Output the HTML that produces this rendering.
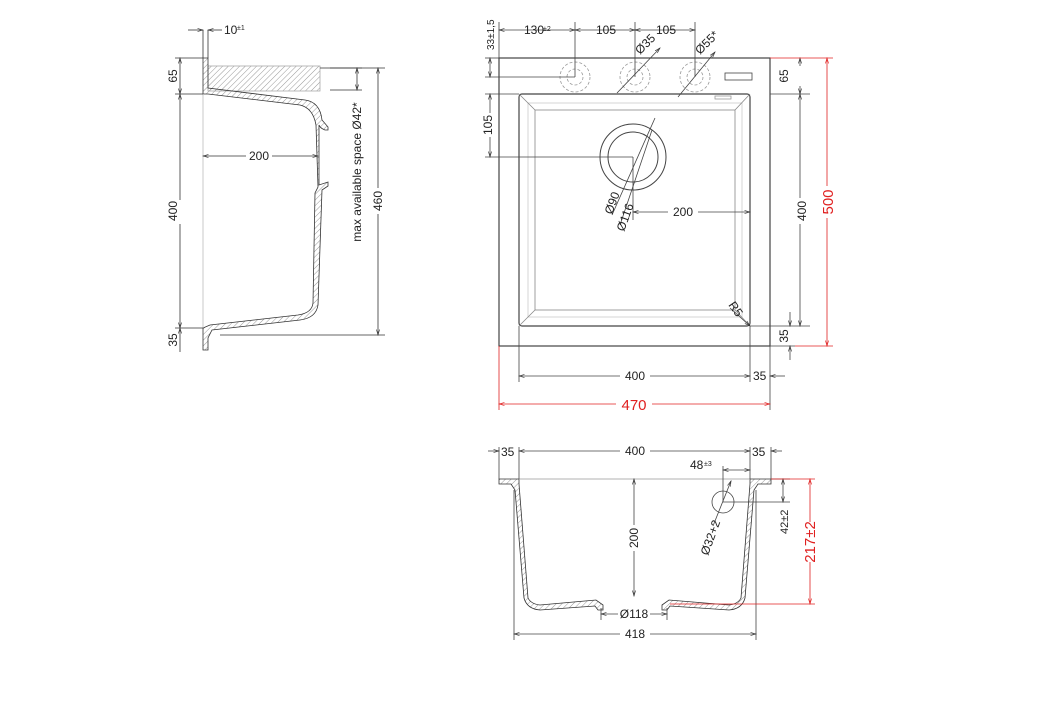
<!DOCTYPE html>
<html><head><meta charset="utf-8"><style>
html,body{margin:0;padding:0;background:#fff;width:1046px;height:701px;overflow:hidden}
svg{display:block}
text{font-family:"Liberation Sans",sans-serif;font-size:12px;fill:#222}
.r{fill:#e02020;font-size:15px}
</style></head><body>
<svg width="1046" height="701" viewBox="0 0 1046 701" xmlns="http://www.w3.org/2000/svg">
<defs>
<pattern id="h" width="4" height="4" patternUnits="userSpaceOnUse" patternTransform="rotate(45)"><line x1="0" y1="0" x2="0" y2="4" stroke="#999" stroke-width="1"/></pattern>
<marker id="a" markerWidth="8" markerHeight="6" refX="7" refY="3" orient="auto-start-reverse"><path d="M0,1 L7,3 L0,5" fill="none" stroke="#333" stroke-width="0.8"/></marker>
<marker id="ar" markerWidth="8" markerHeight="6" refX="7" refY="3" orient="auto-start-reverse"><path d="M0,1 L7,3 L0,5" fill="none" stroke="#e02020" stroke-width="0.8"/></marker>
</defs>
<g stroke="#333" stroke-width="0.8" fill="none">
<rect x="208" y="66" width="112" height="25" fill="url(#h)" stroke="#aaa"/>
<path d="M203,58 L208,58 L208,88 L305,100 Q320,102 322,120 L328,127 L328,130 L325,130 Q320,128 319,125 L319,185 L328,182 L328,186 L322,190 L318,305 Q316,318 300,320 L212,330 L208,338 L208,350 L203,350 L203,328 L210,325 L298,315 Q312,313 313,303 L315,193 L318,187 L316,125 Q313,108 300,105 L208,94 L203,94 Z" fill="url(#h)" stroke="#333"/>
<line x1="203" y1="94" x2="203" y2="328" stroke="#bbb"/>
<line x1="203" y1="30" x2="203" y2="58"/><line x1="208" y1="30" x2="208" y2="58"/>
<line x1="188" y1="30" x2="203" y2="30" marker-end="url(#a)"/><line x1="222" y1="30" x2="208" y2="30" marker-end="url(#a)"/>
<line x1="175" y1="58" x2="203" y2="58"/><line x1="175" y1="94" x2="203" y2="94"/>
<line x1="180" y1="58" x2="180" y2="94" marker-start="url(#a)" marker-end="url(#a)"/>
<line x1="180" y1="94" x2="180" y2="328" marker-start="url(#a)" marker-end="url(#a)"/>
<line x1="175" y1="328" x2="203" y2="328"/>
<line x1="180" y1="328" x2="180" y2="352" marker-start="url(#a)"/>
<line x1="203" y1="156" x2="318" y2="156" marker-start="url(#a)" marker-end="url(#a)"/>
<line x1="330" y1="68" x2="362" y2="68"/><line x1="330" y1="90" x2="362" y2="90"/>
<line x1="357" y1="68" x2="357" y2="90" marker-start="url(#a)" marker-end="url(#a)"/>
<line x1="320" y1="68" x2="385" y2="68"/><line x1="220" y1="335" x2="385" y2="335"/>
<line x1="378" y1="68" x2="378" y2="335" marker-start="url(#a)" marker-end="url(#a)"/>
</g>
<g>
<rect x="223" y="24" width="20" height="12" fill="#fff"/><text x="224" y="34">10</text><text x="237" y="30" style="font-size:7px">±1</text>
<text transform="translate(177,76) rotate(-90)" text-anchor="middle" fill="#222">65</text>
<rect x="172" y="200" width="12" height="24" fill="#fff"/><text transform="translate(177,211) rotate(-90)" text-anchor="middle">400</text>
<text transform="translate(177,340) rotate(-90)" text-anchor="middle">35</text>
<rect x="246" y="148" width="26" height="14" fill="#fff"/><text x="259" y="160" text-anchor="middle">200</text>
<text transform="translate(361,172) rotate(-90)" text-anchor="middle">max available space Ø42*</text>
<rect x="372" y="188" width="12" height="26" fill="#fff"/><text transform="translate(382,201) rotate(-90)" text-anchor="middle">460</text>
</g>

<g stroke="#444" stroke-width="0.8" fill="none">
<rect x="499" y="58" width="271" height="288" stroke-width="1.2"/>
<rect x="519" y="94" width="231" height="232" stroke-width="1.2" rx="3"/>
<rect x="535" y="110" width="200" height="200" stroke="#888"/>
<rect x="528" y="103" width="214" height="214" stroke="#ccc"/>
<line x1="519" y1="94" x2="535" y2="110" stroke="#888"/><line x1="750" y1="94" x2="735" y2="110" stroke="#888"/>
<line x1="519" y1="326" x2="535" y2="310" stroke="#888"/><line x1="750" y1="326" x2="735" y2="310" stroke="#888"/>
<circle cx="633" cy="157" r="33" stroke-width="1"/><circle cx="633" cy="157" r="25" stroke-width="1"/>
<g stroke-dasharray="3,2" stroke="#999"><circle cx="575" cy="77" r="15"/><circle cx="575" cy="77" r="8"/><circle cx="635" cy="77" r="15"/><circle cx="635" cy="77" r="8"/><circle cx="695" cy="77" r="15"/><circle cx="695" cy="77" r="8"/></g>
<rect x="725" y="73" width="27" height="7"/>
<rect x="715" y="96" width="16" height="3" stroke="#999"/>
<line x1="499" y1="22" x2="499" y2="58"/><line x1="575" y1="22" x2="575" y2="77"/><line x1="635" y1="22" x2="635" y2="77"/><line x1="695" y1="22" x2="695" y2="77"/>
<line x1="499" y1="30" x2="575" y2="30" marker-start="url(#a)" marker-end="url(#a)"/>
<line x1="575" y1="30" x2="635" y2="30" marker-start="url(#a)" marker-end="url(#a)"/>
<line x1="635" y1="30" x2="695" y2="30" marker-start="url(#a)" marker-end="url(#a)"/>
<line x1="485" y1="58" x2="499" y2="58"/><line x1="485" y1="77" x2="575" y2="77"/>
<line x1="490" y1="58" x2="490" y2="77" marker-start="url(#a)" marker-end="url(#a)"/>
<line x1="485" y1="94" x2="519" y2="94"/><line x1="485" y1="157" x2="633" y2="157"/>
<line x1="490" y1="94" x2="490" y2="157" marker-start="url(#a)" marker-end="url(#a)"/>
<line x1="617" y1="93" x2="660" y2="48" marker-end="url(#a)"/><line x1="678" y1="97" x2="715" y2="52" marker-end="url(#a)"/>
<line x1="612" y1="215" x2="655" y2="118"/><line x1="620" y1="225" x2="652" y2="130"/>
<line x1="633" y1="157" x2="633" y2="220"/>
<line x1="633" y1="212" x2="750" y2="212" marker-start="url(#a)" marker-end="url(#a)"/>
<line x1="770" y1="94" x2="810" y2="94"/><line x1="750" y1="326" x2="810" y2="326"/>
<line x1="800" y1="58" x2="800" y2="94" marker-start="url(#a)" marker-end="url(#a)"/>
<line x1="800" y1="94" x2="800" y2="326" marker-start="url(#a)" marker-end="url(#a)"/>
<line x1="770" y1="346" x2="795" y2="346"/>
<line x1="790" y1="312" x2="790" y2="326" marker-end="url(#a)"/><line x1="790" y1="360" x2="790" y2="346" marker-end="url(#a)"/>
<line x1="730" y1="308" x2="750" y2="326" marker-end="url(#a)"/>
<line x1="519" y1="326" x2="519" y2="382"/><line x1="750" y1="326" x2="750" y2="382"/><line x1="770" y1="346" x2="770" y2="410"/>
<line x1="519" y1="376" x2="750" y2="376" marker-start="url(#a)" marker-end="url(#a)"/>
<line x1="785" y1="376" x2="770" y2="376" marker-end="url(#a)"/>
<line x1="499" y1="346" x2="499" y2="410" stroke="#e02020"/>
<line x1="499" y1="404" x2="770" y2="404" stroke="#e02020" marker-start="url(#ar)" marker-end="url(#ar)"/>
<line x1="770" y1="58" x2="833" y2="58" stroke="#e02020"/><line x1="795" y1="346" x2="833" y2="346" stroke="#e02020"/>
<line x1="827" y1="58" x2="827" y2="346" stroke="#e02020" marker-start="url(#ar)" marker-end="url(#ar)"/>
</g>
<g>
<text x="524" y="34">130</text><text x="543" y="31" style="font-size:7px">±2</text>
<text x="596" y="34">105</text><text x="656" y="34">105</text>
<text transform="translate(494,50) rotate(-90)" style="font-size:10px">33±1,5</text>
<text transform="translate(640,55) rotate(-45)">Ø35</text>
<text transform="translate(700,55) rotate(-45)">Ø55*</text>
<rect x="482" y="113" width="12" height="24" fill="#fff"/><text transform="translate(492,125) rotate(-90)" text-anchor="middle">105</text>
<rect x="790" y="66" width="14" height="20" fill="#fff"/><text transform="translate(788,76) rotate(-90)" text-anchor="middle">65</text>
<rect x="790" y="198" width="14" height="26" fill="#fff"/><text transform="translate(806,211) rotate(-90)" text-anchor="middle">400</text>
<text transform="translate(788,336) rotate(-90)" text-anchor="middle">35</text>
<rect x="668" y="205" width="30" height="14" fill="#fff"/><text x="683" y="216" text-anchor="middle">200</text>
<text transform="translate(612,215) rotate(-70)">Ø90</text>
<text transform="translate(624,232) rotate(-70)">Ø116</text>
<text transform="translate(728,305) rotate(55)">R5</text>
<rect x="620" y="369" width="30" height="14" fill="#fff"/><text x="635" y="380" text-anchor="middle">400</text>
<text x="753" y="380">35</text>
<rect x="616" y="396" width="36" height="16" fill="#fff"/><text x="634" y="410" text-anchor="middle" class="r">470</text>
<rect x="820" y="186" width="14" height="32" fill="#fff"/><text transform="translate(833,202) rotate(-90)" text-anchor="middle" class="r">500</text>
</g>

<g stroke="#444" stroke-width="0.8" fill="none">
<path d="M499,479 L519,479 L519,484 L528,598 Q531,604 540,605 L596,600 L603,605 L603,610 L598,610 L595,606 L540,610 Q527,609 524,598 L515,490 L511,484 L499,484 Z" fill="url(#h)" stroke="#333"/>
<path d="M771,479 L750,479 L750,484 L741,598 Q738,604 729,605 L669,600 L662,605 L662,610 L667,610 L670,606 L729,610 Q742,609 745,598 L754,490 L758,484 L771,484 Z" fill="url(#h)" stroke="#333"/>
<line x1="519" y1="479" x2="750" y2="479" stroke="#999"/>
<line x1="499" y1="447" x2="499" y2="479"/><line x1="519" y1="447" x2="519" y2="479"/><line x1="750" y1="447" x2="750" y2="479"/><line x1="771" y1="447" x2="771" y2="479"/>
<line x1="519" y1="451" x2="750" y2="451" marker-start="url(#a)" marker-end="url(#a)"/>
<line x1="488" y1="451" x2="499" y2="451" marker-end="url(#a)"/><line x1="782" y1="451" x2="771" y2="451" marker-end="url(#a)"/>
<circle cx="723" cy="502" r="11"/>
<line x1="723" y1="466" x2="723" y2="502"/><line x1="723" y1="470" x2="750" y2="470" marker-start="url(#a)" marker-end="url(#a)"/>
<line x1="723" y1="502" x2="790" y2="502"/><line x1="771" y1="479" x2="790" y2="479"/>
<line x1="783" y1="479" x2="783" y2="502" marker-start="url(#a)" marker-end="url(#a)"/>
<line x1="713" y1="526" x2="731" y2="481" marker-end="url(#a)"/>
<line x1="634" y1="479" x2="634" y2="596" marker-start="url(#a)" marker-end="url(#a)"/>
<line x1="601" y1="608" x2="601" y2="620"/><line x1="667" y1="608" x2="667" y2="620"/>
<line x1="601" y1="614" x2="667" y2="614" marker-start="url(#a)" marker-end="url(#a)"/>
<line x1="514" y1="490" x2="514" y2="640"/><line x1="756" y1="490" x2="756" y2="640"/>
<line x1="514" y1="634" x2="756" y2="634" marker-start="url(#a)" marker-end="url(#a)"/>
<line x1="771" y1="479" x2="815" y2="479" stroke="#e02020"/><line x1="670" y1="604" x2="815" y2="604" stroke="#e02020"/>
<line x1="810" y1="479" x2="810" y2="604" stroke="#e02020" marker-start="url(#ar)" marker-end="url(#ar)"/>
</g>
<g>
<text x="501" y="456">35</text>
<rect x="620" y="444" width="30" height="14" fill="#fff"/><text x="635" y="455" text-anchor="middle">400</text>
<text x="752" y="456">35</text>
<text x="690" y="469">48</text><text x="704" y="466" style="font-size:7px">±3</text>
<text transform="translate(788,534) rotate(-90)" style="font-size:11px">42±2</text>
<text transform="translate(708,556) rotate(-70)">Ø32+2</text>
<rect x="626" y="525" width="14" height="26" fill="#fff"/><text transform="translate(638,538) rotate(-90)" text-anchor="middle">200</text>
<rect x="618" y="607" width="32" height="14" fill="#fff"/><text x="634" y="618" text-anchor="middle">Ø118</text>
<rect x="620" y="627" width="30" height="14" fill="#fff"/><text x="635" y="638" text-anchor="middle">418</text>
<rect x="802" y="522" width="16" height="40" fill="#fff"/><text transform="translate(815,542) rotate(-90)" text-anchor="middle" class="r">217±2</text>
</g>
</svg>
</body></html>
